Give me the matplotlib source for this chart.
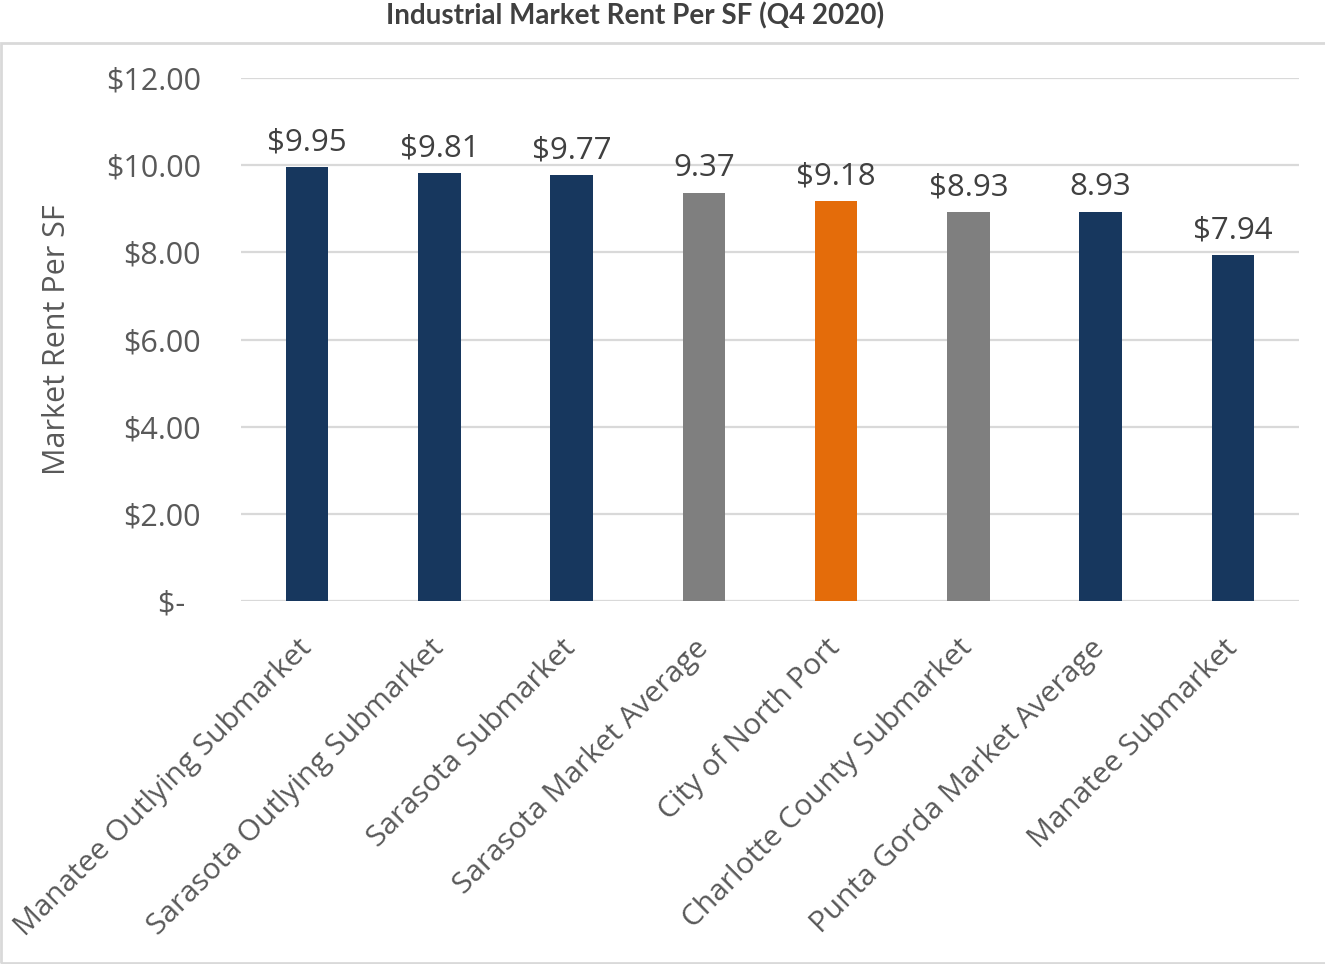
import matplotlib
matplotlib.use("Agg")
import matplotlib.pyplot as plt
from matplotlib import font_manager
from matplotlib.patches import Rectangle
from matplotlib.ticker import FuncFormatter, MultipleLocator

categories = [
    "Manatee Outlying Submarket",
    "Sarasota Outlying Submarket",
    "Sarasota Submarket",
    "Sarasota Market Average",
    "City of North Port",
    "Charlotte County Submarket",
    "Punta Gorda Market Average",
    "Manatee Submarket",
]
rents = [9.95, 9.81, 9.77, 9.37, 9.18, 8.93, 8.93, 7.94]
label_has_dollar = [True, True, True, False, True, True, False, True]

NAVY = "#17375e"
GRAY = "#7f7f7f"
ORANGE = "#e46c0a"
bar_colors = [NAVY, NAVY, NAVY, GRAY, ORANGE, GRAY, NAVY, NAVY]

installed = sorted({f.name for f in font_manager.fontManager.ttflist})
body_font = next((n for n in installed if n.startswith("Open Sans")), "DejaVu Sans")
plt.rcParams["font.family"] = [body_font, "DejaVu Sans"]

W, H = 1325, 964
fig = plt.figure(figsize=(W / 100, H / 100), dpi=100)

# chart frame below the title
fig.patches.append(Rectangle((1 / W, 1 / H), 1.2, (H - 44) / H, transform=fig.transFigure,
                             fill=False, edgecolor="#d9d9d9", linewidth=2))

fig.text(635 / W, 1 - 16 / H, "Industrial Market Rent Per SF (Q4 2020)",
         ha="center", va="center", fontsize=20, fontweight="bold",
         color="#404040", family=["Lato", "DejaVu Sans"])

ax = fig.add_axes([241 / W, 1 - 601 / H, (1299 - 241) / W, (601 - 78) / H])
x = list(range(len(categories)))
ax.bar(x, rents, width=0.32, color=bar_colors, zorder=3)
ax.set_xlim(-0.5, len(categories) - 0.5)
ax.set_ylim(0, 12)
ax.yaxis.set_major_locator(MultipleLocator(2))
# accounting-style labels: zero shown as a dash, padded on the right
ax.yaxis.set_major_formatter(FuncFormatter(lambda v, p: "$-  " if v == 0 else f"${v:.2f}"))
ax.grid(axis="y", color="#d9d9d9", linewidth=1.6, zorder=0)
for s in ax.spines.values():
    s.set_visible(False)
ax.tick_params(axis="y", length=0, pad=29, labelsize=22, labelcolor="#595959")
ax.tick_params(axis="x", length=0, pad=31)

ax.set_xticks(x)
ax.set_xticklabels(categories, rotation=45, ha="right", va="center",
                   rotation_mode="anchor", fontsize=21.5, color="#595959")

ax.set_ylabel("Market Rent Per SF", fontsize=22, color="#595959", labelpad=24)

for xi, v, d in zip(x, rents, label_has_dollar):
    txt = f"${v:.2f}" if d else f"{v:.2f}"
    ax.annotate(txt, (xi, v), xytext=(0, 7), textcoords="offset points",
                ha="center", va="bottom", fontsize=22.5, color="#404040", zorder=4)

fig.savefig("out.png", dpi=100, facecolor="white")
